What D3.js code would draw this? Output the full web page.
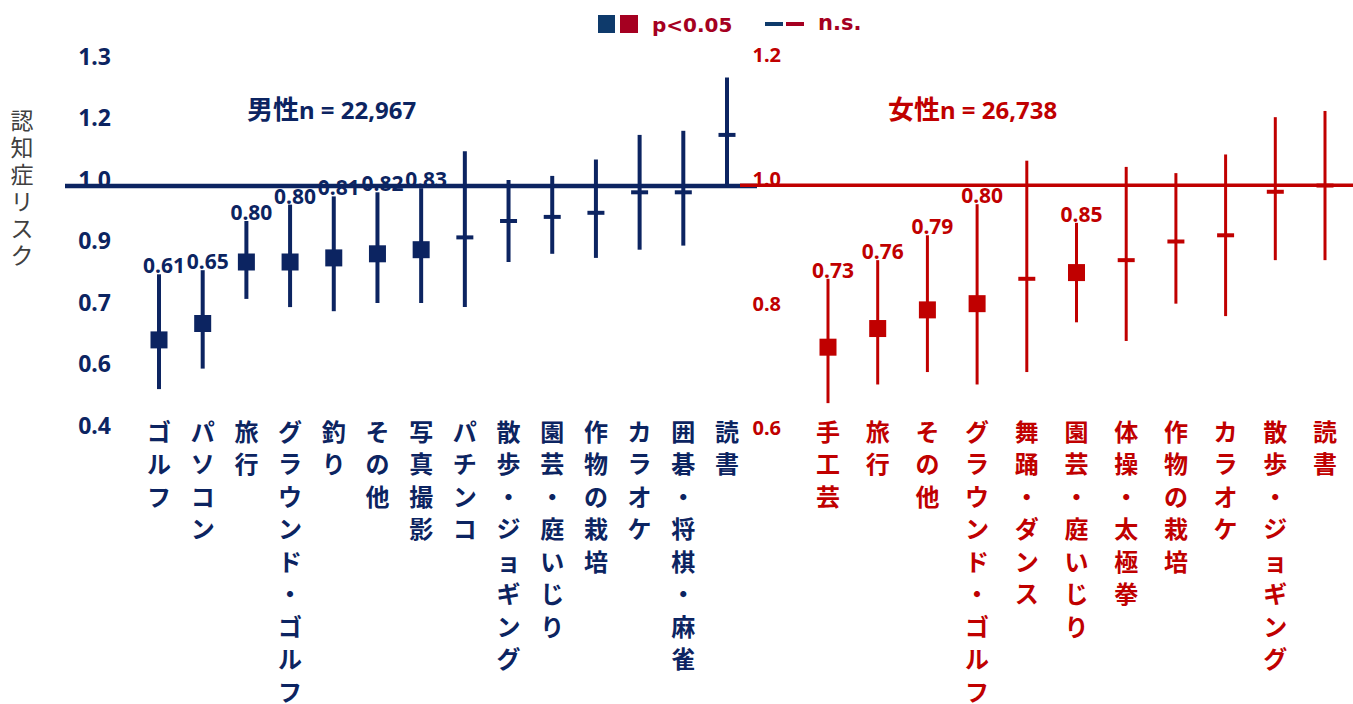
<!DOCTYPE html>
<html>
<head>
<meta charset="utf-8">
<script src="https://cdn.jsdelivr.net/npm/d3@7"></script>
<style>
  body { margin: 0; background: #fff; }
  svg { display: block; }
</style>
</head>
<body>
<svg id="chart" width="1353" height="704"></svg>
<script>
// 男性
const maleCats = ["ゴルフ", "パソコン", "旅行", "グラウンド・ゴルフ", "釣り", "その他", "写真撮影",
  "パチンコ", "散歩・ジョギング", "園芸・庭いじり", "作物の栽培", "カラオケ", "囲碁・将棋・麻雀", "読書"];
const maleOR   = [0.61, 0.65, 0.80, 0.80, 0.81, 0.82, 0.83, 0.86, 0.90, 0.91, 0.92, 0.97, 0.97, 1.11];
const maleLow  = [0.49, 0.54, 0.71, 0.69, 0.68, 0.70, 0.70, 0.69, 0.80, 0.82, 0.81, 0.83, 0.84, 0.985];
const maleHigh = [0.77, 0.78, 0.90, 0.94, 0.96, 0.97, 0.98, 1.07, 1.00, 1.01, 1.05, 1.11, 1.12, 1.25];
const maleSig  = [1, 1, 1, 1, 1, 1, 1, 0, 0, 0, 0, 0, 0, 0];
const maleTicks = [0.4, 0.55, 0.7, 0.85, 1.0, 1.15, 1.3];
const maleTickLabels = ["0.4", "0.6", "0.7", "0.9", "1.0", "1.2", "1.3"];

// 女性
const femaleCats = ["手工芸", "旅行", "その他", "グラウンド・ゴルフ", "舞踊・ダンス", "園芸・庭いじり",
  "体操・太極拳", "作物の栽培", "カラオケ", "散歩・ジョギング", "読書"];
const femaleOR   = [0.73, 0.76, 0.79, 0.80, 0.84, 0.85, 0.87, 0.90, 0.91, 0.98, 0.99];
const femaleLow  = [0.64, 0.67, 0.69, 0.67, 0.69, 0.77, 0.74, 0.80, 0.78, 0.87, 0.87];
const femaleHigh = [0.84, 0.87, 0.91, 0.96, 1.03, 0.93, 1.02, 1.01, 1.04, 1.10, 1.11];
const femaleSig  = [1, 1, 1, 1, 0, 1, 0, 0, 0, 0, 0];
const femaleTicks = [0.6, 0.8, 1.0, 1.2];

const navy = "#0c2461";
const red = "#c00000";
const cjk = "'Noto Sans CJK JP', 'Noto Sans', sans-serif";
const num = "'Noto Sans', 'Noto Sans CJK JP', sans-serif";

const svg = d3.select("#chart");

// 比例尺
const xM = d3.scalePoint().domain(maleCats).range([159, 727]);
const yM = d3.scaleLinear().domain([0.4, 1.3]).range([426, 57]);
const xF = d3.scalePoint().domain(femaleCats).range([828, 1325]);
const yF = d3.scaleLinear().domain([0.6, 1.2]).range([428, 55]);

const male = maleCats.map((c, i) => ({ cat: c, or: maleOR[i], lo: maleLow[i], hi: maleHigh[i], sig: maleSig[i] }));
const female = femaleCats.map((c, i) => ({ cat: c, or: femaleOR[i], lo: femaleLow[i], hi: femaleHigh[i], sig: femaleSig[i] }));

// y軸
const axM = svg.append("g")
  .attr("transform", "translate(114,0)")
  .call(d3.axisLeft(yM).tickValues(maleTicks).tickFormat((d, i) => maleTickLabels[i]).tickSize(0).tickPadding(3));
axM.select(".domain").remove();
axM.selectAll("text")
  .attr("font-family", num).attr("font-weight", "bold").attr("font-size", 23).attr("fill", navy);

const axF = svg.append("g")
  .attr("transform", "translate(784,0)")
  .call(d3.axisLeft(yF).tickValues(femaleTicks).tickFormat(d3.format(".1f")).tickSize(0).tickPadding(3));
axF.select(".domain").remove();
axF.selectAll("text")
  .attr("font-family", num).attr("font-weight", "bold").attr("font-size", 20).attr("fill", red);

// 軸タイトル
svg.append("text")
  .attr("x", 22).attr("y", 121)
  .attr("font-family", cjk).attr("font-size", 23).attr("fill", "#404040")
  .attr("text-anchor", "middle")
  .selectAll("tspan")
  .data(Array.from("認知症リスク"))
  .join("tspan")
  .attr("x", 22)
  .attr("dy", (d, i) => i === 0 ? "0.35em" : 27)
  .text(d => d);

// 基準線 (1.0)
const lineOffset = 6;
svg.append("line")
  .attr("x1", 65).attr("x2", 757)
  .attr("y1", yM(1.0) + lineOffset).attr("y2", yM(1.0) + lineOffset)
  .attr("stroke", navy).attr("stroke-width", 4.5);
svg.append("line")
  .attr("x1", 740).attr("x2", 1353)
  .attr("y1", yF(1.0) + lineOffset).attr("y2", yF(1.0) + lineOffset)
  .attr("stroke", red).attr("stroke-width", 3.5);

function drawGroup(data, x, y, color, barW, title, titleX) {
  const g = svg.append("g");

  // 信頼区間
  g.selectAll(".ci")
    .data(data)
    .join("line")
    .attr("class", "ci")
    .attr("x1", d => x(d.cat)).attr("x2", d => x(d.cat))
    .attr("y1", d => y(d.hi)).attr("y2", d => y(d.lo))
    .attr("stroke", color).attr("stroke-width", barW);

  // 有意: 四角
  g.selectAll(".sq")
    .data(data.filter(d => d.sig))
    .join("rect")
    .attr("class", "sq")
    .attr("x", d => x(d.cat) - 8.5).attr("y", d => y(d.or) - 8.5)
    .attr("width", 17).attr("height", 17)
    .attr("fill", color);

  // n.s.: 横線
  g.selectAll(".ns")
    .data(data.filter(d => !d.sig))
    .join("line")
    .attr("class", "ns")
    .attr("x1", d => x(d.cat) - 8.5).attr("x2", d => x(d.cat) + 8.5)
    .attr("y1", d => y(d.or)).attr("y2", d => y(d.or))
    .attr("stroke", color).attr("stroke-width", 4);

  // 数値
  g.selectAll(".val")
    .data(data.filter(d => d.sig))
    .join("text")
    .attr("class", "val")
    .attr("x", d => x(d.cat) + 5).attr("y", d => y(d.hi) - 1)
    .attr("text-anchor", "middle")
    .attr("font-family", num).attr("font-weight", "bold").attr("font-size", 21)
    .attr("fill", color)
    .text(d => d3.format(".2f")(d.or));

  // カテゴリ (縦書き)
  g.selectAll(".cat")
    .data(data)
    .join("text")
    .attr("class", "cat")
    .attr("y", 432)
    .attr("text-anchor", "middle")
    .attr("font-family", cjk).attr("font-weight", "bold").attr("font-size", 24)
    .attr("fill", color)
    .each(function (d) {
      d3.select(this).selectAll("tspan")
        .data(Array.from(d.cat))
        .join("tspan")
        .attr("x", x(d.cat))
        .attr("dy", (c, i) => i === 0 ? "0.36em" : 32.5)
        .text(c => c);
    });

  // タイトル
  const t = svg.append("text")
    .attr("x", titleX).attr("y", 119)
    .attr("font-family", cjk).attr("font-weight", "bold")
    .attr("fill", color);
  t.append("tspan").attr("font-size", 26).text(title[0]);
  t.append("tspan").attr("font-size", 24).attr("font-family", num).text(title[1]);
}

drawGroup(male, xM, yM, navy, 4, ["男性", "n = 22,967"], 247);
drawGroup(female, xF, yF, red, 3, ["女性", "n = 26,738"], 888);

// 凡例
const legNavy = "#0e3a6b";
const legRed = "#a50021";
const leg = svg.append("g");
leg.append("rect").attr("x", 598).attr("y", 15).attr("width", 17).attr("height", 18).attr("fill", legNavy);
leg.append("rect").attr("x", 620).attr("y", 15).attr("width", 18).attr("height", 18).attr("fill", legRed);
leg.append("text").attr("x", 652).attr("y", 32)
  .attr("font-family", "'DejaVu Sans', sans-serif").attr("font-weight", "bold").attr("font-size", 20)
  .attr("fill", legRed).text("p<0.05");
leg.append("line").attr("x1", 765).attr("x2", 783).attr("y1", 24).attr("y2", 24)
  .attr("stroke", legNavy).attr("stroke-width", 4);
leg.append("line").attr("x1", 786).attr("x2", 804).attr("y1", 24).attr("y2", 24)
  .attr("stroke", legRed).attr("stroke-width", 4);
leg.append("text").attr("x", 818).attr("y", 30)
  .attr("font-family", "'DejaVu Sans', sans-serif").attr("font-weight", "bold").attr("font-size", 21)
  .attr("fill", legRed).text("n.s.");
</script>
</body>
</html>
